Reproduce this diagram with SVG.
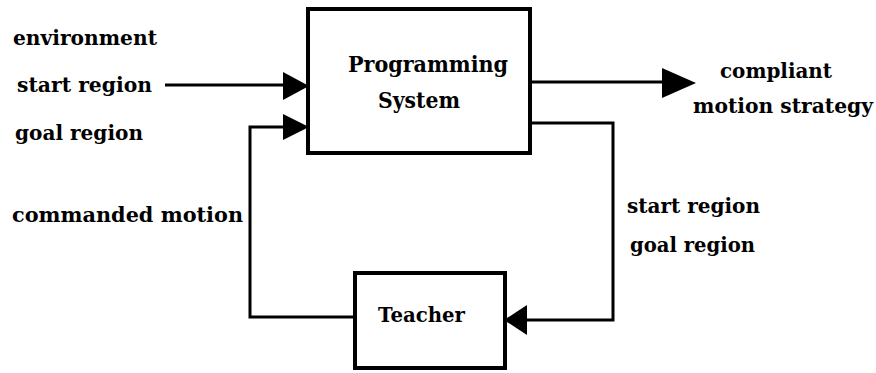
<svg xmlns="http://www.w3.org/2000/svg" width="876" height="373" viewBox="0 0 876 373">
<style>
text{font-family:"DejaVu Serif","Liberation Serif",serif;font-weight:bold;fill:#000;}
.lbl{font-size:20px;}
.big{font-size:22px;}
.box{fill:#fff;stroke:#000;stroke-width:4;}
.wire{fill:none;stroke:#000;stroke-width:3;}
.head{fill:#000;}
</style>
<rect width="876" height="373" fill="#fff"/>
<g id="connectors">
<path class="wire" d="M165,85 H290"/>
<polygon class="head" points="283,72 309,86 283,100"/>
<path class="wire" d="M355,317 H250 V127 H290"/>
<polygon class="head" points="283,114 309,127 283,140"/>
<path class="wire" d="M530,82 H670"/>
<polygon class="head" points="662,68 696,83 662,98"/>
<path class="wire" d="M530,123 H613 V320 H522"/>
<polygon class="head" points="527,305 504,320 527,335"/>
</g>
<g id="programming-system">
<rect class="box" x="308" y="9" width="222" height="144"/>
<text class="big" x="348" y="72" textLength="160" lengthAdjust="spacingAndGlyphs">Programming</text>
<text class="big" x="378" y="108" textLength="82" lengthAdjust="spacingAndGlyphs">System</text>
</g>
<g id="teacher">
<rect class="box" x="355" y="273" width="150" height="95"/>
<text class="lbl" x="378" y="322" textLength="87" lengthAdjust="spacingAndGlyphs">Teacher</text>
</g>
<g id="labels">
<text class="lbl" x="13" y="45" textLength="144" lengthAdjust="spacingAndGlyphs">environment</text>
<text class="lbl" x="17" y="92" textLength="135" lengthAdjust="spacingAndGlyphs">start region</text>
<text class="lbl" x="15" y="140" textLength="128" lengthAdjust="spacingAndGlyphs">goal region</text>
<text class="lbl" x="12" y="222" textLength="231" lengthAdjust="spacingAndGlyphs">commanded motion</text>
<text class="lbl" x="720" y="78" textLength="112" lengthAdjust="spacingAndGlyphs">compliant</text>
<text class="lbl" x="693" y="113" textLength="180" lengthAdjust="spacingAndGlyphs">motion strategy</text>
<text class="lbl" x="627" y="213" textLength="133" lengthAdjust="spacingAndGlyphs">start region</text>
<text class="lbl" x="630" y="252" textLength="125" lengthAdjust="spacingAndGlyphs">goal region</text>
</g>
</svg>
